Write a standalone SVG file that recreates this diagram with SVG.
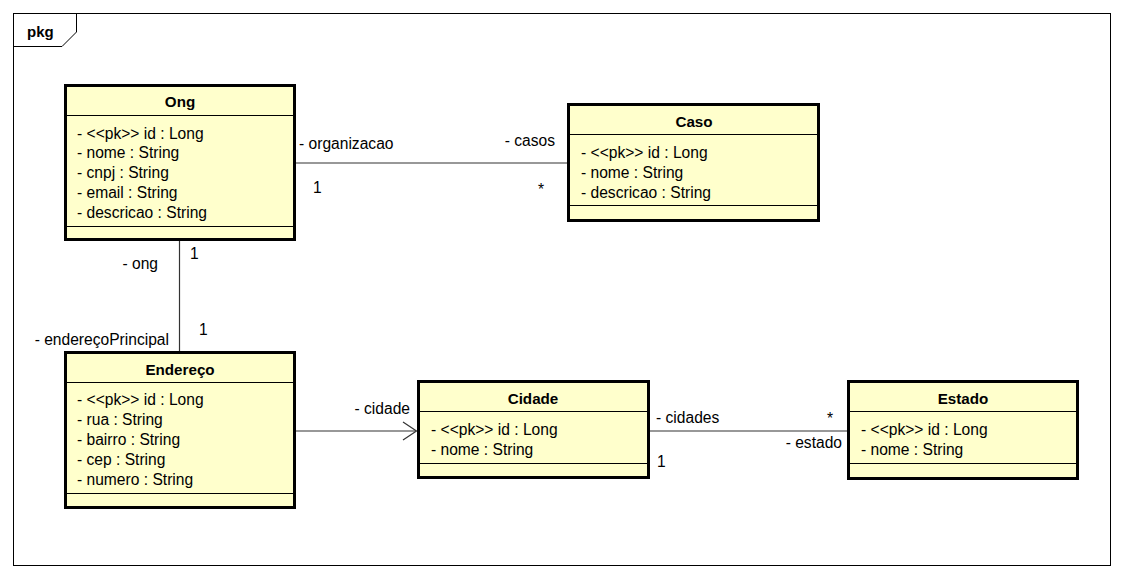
<svg xmlns="http://www.w3.org/2000/svg" width="1124" height="578" viewBox="0 0 1124 578">
<style>
text{font-family:"Liberation Sans",Arial,sans-serif;font-size:15.6px;fill:#000}
.n{font-weight:bold;text-anchor:middle;font-size:15.2px}
.box{fill:#ffffcc;stroke:#000;stroke-width:3}
.sep{stroke:#000;stroke-width:1}
.c{stroke:#333;stroke-width:1.2;fill:none}
.e{text-anchor:end}
</style>
<rect width="1124" height="578" fill="#fff"/>
<g id="frame">
<rect x="13.5" y="13.5" width="1097" height="552" fill="none" stroke="#000" stroke-width="1"/>
<path d="M13.5 46.5H62L76.5 32V13.5" fill="none" stroke="#000" stroke-width="1"/>
<text x="27" y="37" style="font-weight:bold;font-size:15px">pkg</text>
</g>
<g id="connectors">
<line class="c" x1="296" y1="163" x2="567" y2="163"/>
<line class="c" x1="179.5" y1="241" x2="179.5" y2="351"/>
<line class="c" x1="296" y1="431" x2="416" y2="431"/>
<path class="c" d="M403 422L416.5 431L403 440"/>
<line class="c" x1="650" y1="431" x2="847" y2="431"/>
<text x="299" y="149">- organizacao</text>
<text x="313" y="193">1</text>
<text x="555" y="146" class="e">- casos</text>
<text x="544" y="195" class="e">*</text>
<text x="190" y="259">1</text>
<text x="158" y="269" class="e">- ong</text>
<text x="199" y="335">1</text>
<text x="169" y="345" class="e">- endereçoPrincipal</text>
<text x="410" y="414" class="e">- cidade</text>
<text x="656" y="423">- cidades</text>
<text x="657" y="467">1</text>
<text x="833" y="424" class="e">*</text>
<text x="842" y="448" class="e">- estado</text>
</g>
<g id="Ong">
<rect class="box" x="65.5" y="85.5" width="229" height="154"/>
<line class="sep" x1="65" y1="115.5" x2="295" y2="115.5"/>
<line class="sep" x1="65" y1="226.5" x2="295" y2="226.5"/>
<text class="n" x="180" y="107">Ong</text>
<text x="77" y="138.5">- &lt;&lt;pk&gt;&gt; id : Long</text>
<text x="77" y="158.3">- nome : String</text>
<text x="77" y="178.1">- cnpj : String</text>
<text x="77" y="197.9">- email : String</text>
<text x="77" y="217.7">- descricao : String</text>
</g>
<g id="Caso">
<rect class="box" x="568.5" y="104.5" width="250" height="116"/>
<line class="sep" x1="568" y1="134.5" x2="819" y2="134.5"/>
<line class="sep" x1="568" y1="205.5" x2="819" y2="205.5"/>
<text class="n" x="694" y="127">Caso</text>
<text x="581" y="158">- &lt;&lt;pk&gt;&gt; id : Long</text>
<text x="581" y="177.8">- nome : String</text>
<text x="581" y="197.6">- descricao : String</text>
</g>
<g id="Endereco">
<rect class="box" x="65.5" y="352.5" width="229" height="155"/>
<line class="sep" x1="65" y1="382.5" x2="295" y2="382.5"/>
<line class="sep" x1="65" y1="493.5" x2="295" y2="493.5"/>
<text class="n" x="180" y="375">Endereço</text>
<text x="77" y="404.5">- &lt;&lt;pk&gt;&gt; id : Long</text>
<text x="77" y="424.6">- rua : String</text>
<text x="77" y="444.7">- bairro : String</text>
<text x="77" y="464.8">- cep : String</text>
<text x="77" y="484.9">- numero : String</text>
</g>
<g id="Cidade">
<rect class="box" x="418.5" y="381.5" width="230" height="96"/>
<line class="sep" x1="418" y1="411.5" x2="649" y2="411.5"/>
<line class="sep" x1="418" y1="463.5" x2="649" y2="463.5"/>
<text class="n" x="533" y="404">Cidade</text>
<text x="431" y="434.5">- &lt;&lt;pk&gt;&gt; id : Long</text>
<text x="431" y="454.5">- nome : String</text>
</g>
<g id="Estado">
<rect class="box" x="848.5" y="381.5" width="229" height="97"/>
<line class="sep" x1="848" y1="411.5" x2="1078" y2="411.5"/>
<line class="sep" x1="848" y1="463.5" x2="1078" y2="463.5"/>
<text class="n" x="963" y="404">Estado</text>
<text x="861" y="434.5">- &lt;&lt;pk&gt;&gt; id : Long</text>
<text x="861" y="454.5">- nome : String</text>
</g>
</svg>
